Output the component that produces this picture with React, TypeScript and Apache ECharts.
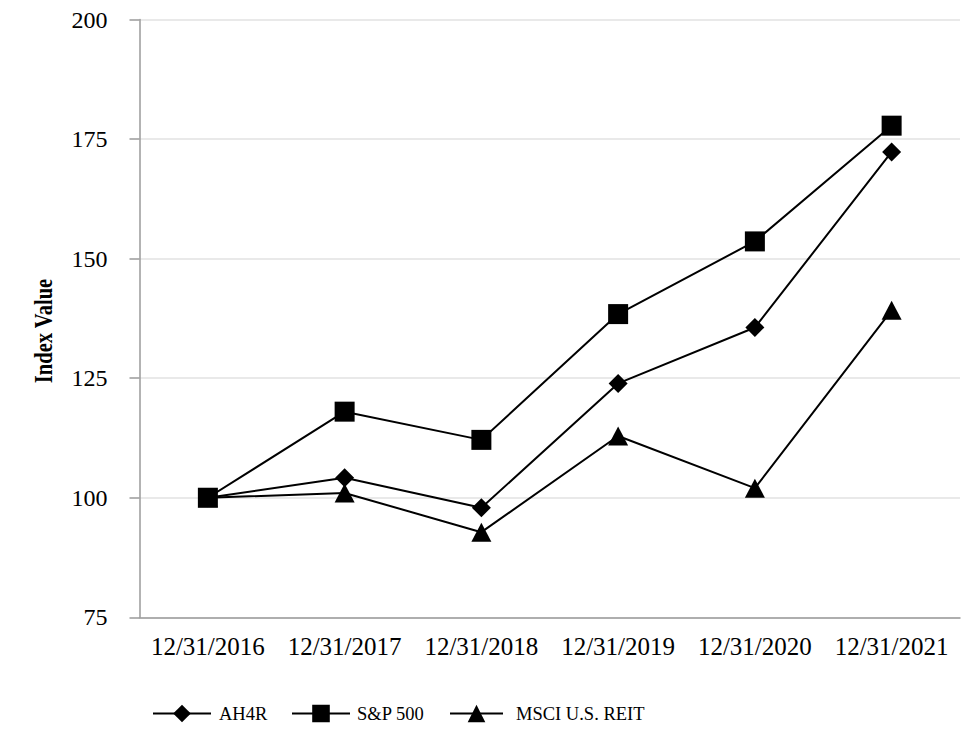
import React, { useEffect, useRef } from "react";
import * as echarts from "echarts";

const categories = ["12/31/2016", "12/31/2017", "12/31/2018", "12/31/2019", "12/31/2020", "12/31/2021"];
const ah4r = [100, 104.2, 97.9, 123.9, 135.6, 172.3];
const sp500 = [100, 118.0, 112.1, 138.4, 153.6, 177.8];
const msciReit = [100, 101.0, 92.8, 112.9, 102.0, 139.2];
const seriesNames = ["AH4R", "S&P 500", "MSCI U.S. REIT"];
const yAxisTitle = "Index Value";

const FONT = "'Liberation Serif', 'Times New Roman', serif";

export default function App() {
  const ref = useRef<HTMLDivElement>(null);

  useEffect(() => {
    if (!ref.current) return;
    const chart = echarts.init(ref.current, null, { renderer: "svg" });
    const lineStyle = { color: "#000", width: 2 };
    const legendBase = {
      top: 704,
      padding: 0,
      itemHeight: 22,
      itemGap: 0,
    };
    chart.setOption({
      animation: false,
      backgroundColor: "#fff",
      textStyle: { fontFamily: FONT, color: "#000" },
      grid: { left: 139.5, right: 20, top: 19.5, bottom: 138.7, outerBoundsMode: "none" },
      xAxis: {
        type: "category",
        data: categories,
        boundaryGap: true,
        axisLine: { lineStyle: { color: "#9a9a9a", width: 1.5 } },
        axisTick: { alignWithLabel: true, length: 10, lineStyle: { color: "#9a9a9a", width: 1.5 } },
        axisLabel: { fontFamily: FONT, fontSize: 25, color: "#000", margin: 17, interval: 0 },
        splitLine: { show: false },
      },
      yAxis: {
        type: "value",
        min: 75,
        max: 200,
        interval: 25,
        axisLine: { show: true, lineStyle: { color: "#9a9a9a", width: 1.5 } },
        axisTick: { show: true, length: 10, lineStyle: { color: "#9a9a9a", width: 1.5 } },
        axisLabel: { fontFamily: FONT, fontSize: 24, color: "#000", margin: 32 },
        splitLine: { show: true, lineStyle: { color: "#e2e2e2", width: 1.5 } },
      },
      legend: [
        {
          ...legendBase,
          left: 152,
          itemWidth: 58,
          data: [seriesNames[0]],
          textStyle: { fontFamily: FONT, fontSize: 18.5, color: "#000", padding: [0, 0, 0, 3] },
        },
        {
          ...legendBase,
          left: 291,
          itemWidth: 58,
          data: [seriesNames[1]],
          textStyle: { fontFamily: FONT, fontSize: 18.5, color: "#000", padding: [0, 0, 0, 2] },
        },
        {
          ...legendBase,
          left: 449,
          itemWidth: 53,
          data: [seriesNames[2]],
          textStyle: { fontFamily: FONT, fontSize: 18.5, color: "#000", padding: [0, 0, 0, 8] },
        },
      ],
      graphic: [
        {
          type: "text",
          x: 43,
          y: 331,
          rotation: Math.PI / 2,
          scaleX: 0.79,
          style: {
            text: yAxisTitle,
            fontFamily: FONT,
            fontWeight: "bold",
            fontSize: 26,
            fill: "#000",
            align: "center",
            verticalAlign: "middle",
          },
        },
      ],
      series: [
        {
          name: seriesNames[0],
          type: "line",
          data: ah4r,
          symbol: "diamond",
          symbolSize: [19, 19],
          lineStyle,
          itemStyle: { color: "#000" },
          z: 2,
        },
        {
          name: seriesNames[1],
          type: "line",
          data: sp500,
          symbol: "rect",
          symbolSize: [20, 20],
          lineStyle,
          itemStyle: { color: "#000" },
          z: 4,
        },
        {
          name: seriesNames[2],
          type: "line",
          data: msciReit,
          symbol: "triangle",
          symbolSize: [20, 19],
          lineStyle,
          itemStyle: { color: "#000" },
          z: 3,
        },
      ],
    });
    return () => chart.dispose();
  }, []);

  return (
    <div
      ref={ref}
      style={{ position: "fixed", left: 0, top: 0, width: 980, height: 756, background: "#fff" }}
    />
  );
}
